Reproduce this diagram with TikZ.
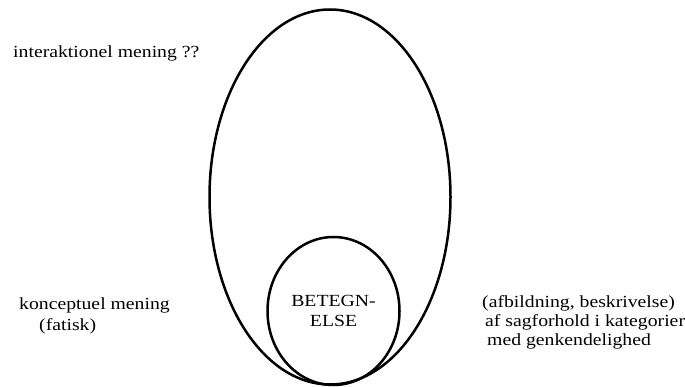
\documentclass[tikz,border=0pt]{standalone}
\usepackage{fontspec}
\setmainfont{Liberation Serif}[FakeStretch=1.16]
\usetikzlibrary{shapes.geometric}
\tikzset{
  ring/.style={draw, ellipse, line width=2.5pt, inner sep=0pt},
  tekst/.style={anchor=west, inner sep=0pt, font=\fontsize{17}{20}\selectfont},
}
\begin{document}
\begin{tikzpicture}[x=1pt,y=-1pt]
  \useasboundingbox (0,0) rectangle (685,387);
  % the two fields of meaning
  \node[ring, minimum width=241, minimum height=375] (mening) at (330,197) {};
  \node[ring, minimum width=132, minimum height=148, align=center,
    font=\fontsize{17}{20}\selectfont] (betegnelse) at (333.5,311) {BETEGN-\\ELSE};
  % labels
  \node[tekst] (interaktionel) at (13,53) {interaktionel mening ??};
  \node[tekst] (konceptuel) at (19,305) {konceptuel mening};
  \node[tekst] (fatisk) at (39,326) {(fatisk)};
  \node[tekst] (afbildning) at (482,303) {(afbildning, beskrivelse)};
  \node[tekst] (sagforhold) at (485,322) {af sagforhold i kategorier};
  \node[tekst] (genkendelighed) at (487,341) {med genkendelighed};
\end{tikzpicture}
\end{document}
